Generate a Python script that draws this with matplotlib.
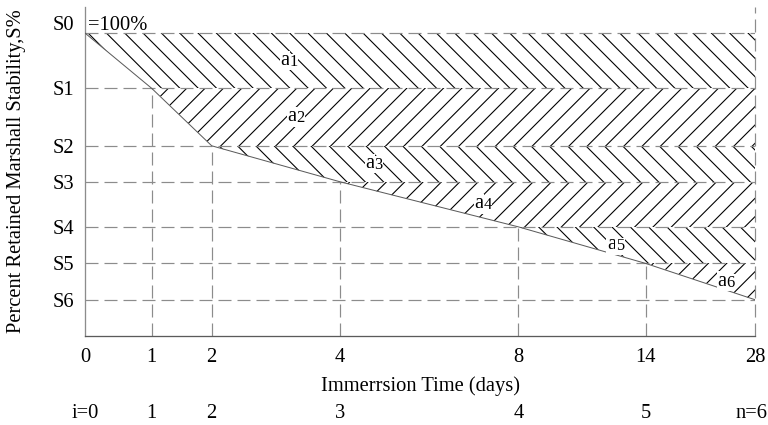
import numpy as np
import matplotlib
matplotlib.use("Agg")
import matplotlib.pyplot as plt
import matplotlib.transforms as mtransforms

# ---- data ----
days = [0, 1, 2, 4, 8, 14, 28]
day_labels = ["0", "1", "2", "4", "8", "14", "28"]
stage_labels = ["i=0", "1", "2", "3", "4", "5", "n=6"]
s_labels = ["S0", "S1", "S2", "S3", "S4", "S5", "S6"]
s_values = [100.0, 81.8, 62.8, 50.9, 36.0, 23.9, 11.9]   # retained stability (relative)
area_names = ["a", "a", "a", "a", "a", "a"]
area_index = ["1", "2", "3", "4", "5", "6"]
area_label_days = [3.2, 3.3, 4.75, 7.2, 12.55, 24.2]

# ---- axis layout (non-uniform day axis, pixels) ----
axis_pos = [0.0, 66.4, 126.4, 254.7, 433.0, 560.4, 669.7]

DPI = 110
def pt(px):
    return px * 72.0 / DPI

plt.rcParams['font.family'] = ['Liberation Serif', 'DejaVu Serif']
plt.rcParams['hatch.linewidth'] = pt(1.1)
plt.rcParams['hatch.color'] = 'black'

FS = pt(20.5)
W, H = 768, 425
fig = plt.figure(figsize=(W / DPI, H / DPI), dpi=DPI)
AX_L, AX_R, AX_T, AX_B = 85.3, 755.0, 7.0, 335.7
ax = fig.add_axes([AX_L / W, 1 - AX_B / H, (AX_R - AX_L) / W, (AX_B - AX_T) / H])

fwd = lambda x: np.interp(x, days, axis_pos)
inv = lambda x: np.interp(x, axis_pos, days)
ax.set_xscale('function', functions=(fwd, inv))
ax.set_xlim(days[0], days[-1])
ymax = s_values[0] * (AX_B - AX_T) / (AX_B - 33.3)
ax.set_ylim(0, ymax)

dash_kw = dict(color='#8c8c8c', lw=pt(1.2), ls=(0, (13 / 1.2, 6 / 1.2)))

# hatched bands
for k in range(1, len(days)):
    hatch = '\\\\' if k % 2 == 1 else '//'
    xs = [days[k - 1], days[-1], days[-1], days[k]]
    ys = [s_values[k - 1], s_values[k - 1], s_values[k], s_values[k]]
    ax.fill(xs, ys, facecolor='white', edgecolor='black', linewidth=0,
            hatch=hatch, zorder=1)

# horizontal dashed lines
for s in s_values:
    ax.plot([days[0], days[-1]], [s, s], zorder=2, **dash_kw)
# vertical dashed lines
for d, s in zip(days[1:-1], s_values[1:-1]):
    ax.plot([d, d], [0, s], zorder=2, **dash_kw)
ax.plot([days[-1], days[-1]], [0, ymax], zorder=2, clip_on=False, **dash_kw)

# decay curve
ax.plot(days, s_values, color='#5a5a5a', lw=pt(1.0), zorder=3)

# area labels
for k, (nm, idx, xd) in enumerate(zip(area_names, area_index, area_label_days)):
    ym = (s_values[k] + s_values[k + 1]) / 2 + 0.6
    ax.annotate(nm, xy=(xd, ym), xytext=(pt(1), pt(-6)), textcoords='offset points',
                fontsize=FS, ha='right', va='baseline', zorder=4,
                bbox=dict(facecolor='white', edgecolor='none', pad=0.3))
    ax.annotate(idx, xy=(xd, ym), xytext=(pt(1), pt(-7)), textcoords='offset points',
                fontsize=FS * 0.8, ha='left', va='baseline', zorder=4,
                bbox=dict(facecolor='white', edgecolor='none', pad=0.3))

ax.annotate('=100%', xy=(days[0], s_values[0]), xytext=(pt(3), pt(8)),
            textcoords='offset points', fontsize=FS, ha='left', va='center')
ax.annotate(s_labels[0], xy=(days[0], s_values[0]), xytext=(pt(-11), pt(8)),
            textcoords='offset points', fontsize=FS, ha='right', va='center',
            annotation_clip=False)

# spines & ticks
for sp in ['top', 'right']:
    ax.spines[sp].set_visible(False)
ax.spines['left'].set_color('#8c8c8c')
ax.spines['bottom'].set_color('#5a5a5a')
ax.spines['left'].set_linewidth(pt(1.3))
ax.spines['bottom'].set_linewidth(pt(1.3))

ax.set_xticks(days)
ax.set_xticklabels(day_labels, fontsize=FS)
ax.set_xticks([days[-1]], minor=True)
ax.tick_params(axis='x', which='major', length=0, pad=pt(12.5))
ax.tick_params(axis='x', which='minor', length=pt(5), width=pt(1.2), color='#5a5a5a',
               direction='out')
ax.set_yticks(s_values[1:])
ax.set_yticklabels(s_labels[1:], fontsize=FS)
ax.tick_params(axis='y', length=0, pad=pt(11))

ax.set_xlabel('Immerrsion Time (days)', fontsize=FS)
ax.xaxis.label.set_va('center')
ax.xaxis.set_label_coords(0.5, (AX_B - 386) / (AX_B - AX_T))
ax.set_ylabel('Percent Retained Marshall Stability,S%', fontsize=FS)
ax.yaxis.label.set_va('center')
ax.yaxis.set_label_coords((17 - AX_L) / (AX_R - AX_L), 0.5)

trans = mtransforms.blended_transform_factory(ax.transData, ax.transAxes)
yrow = (AX_B - 414) / (AX_B - AX_T)
for i, (d, lab) in enumerate(zip(days, stage_labels)):
    if i == len(days) - 1:
        # keep the last label inside the canvas
        ax.annotate(lab, xy=(d, yrow), xycoords=trans, xytext=(pt(12), 0),
                    textcoords='offset points', fontsize=FS, ha='right', va='center',
                    annotation_clip=False)
    else:
        ax.text(d, yrow, lab, transform=trans, fontsize=FS, ha='center', va='center',
                clip_on=False)

fig.savefig('out.png', dpi=DPI)
